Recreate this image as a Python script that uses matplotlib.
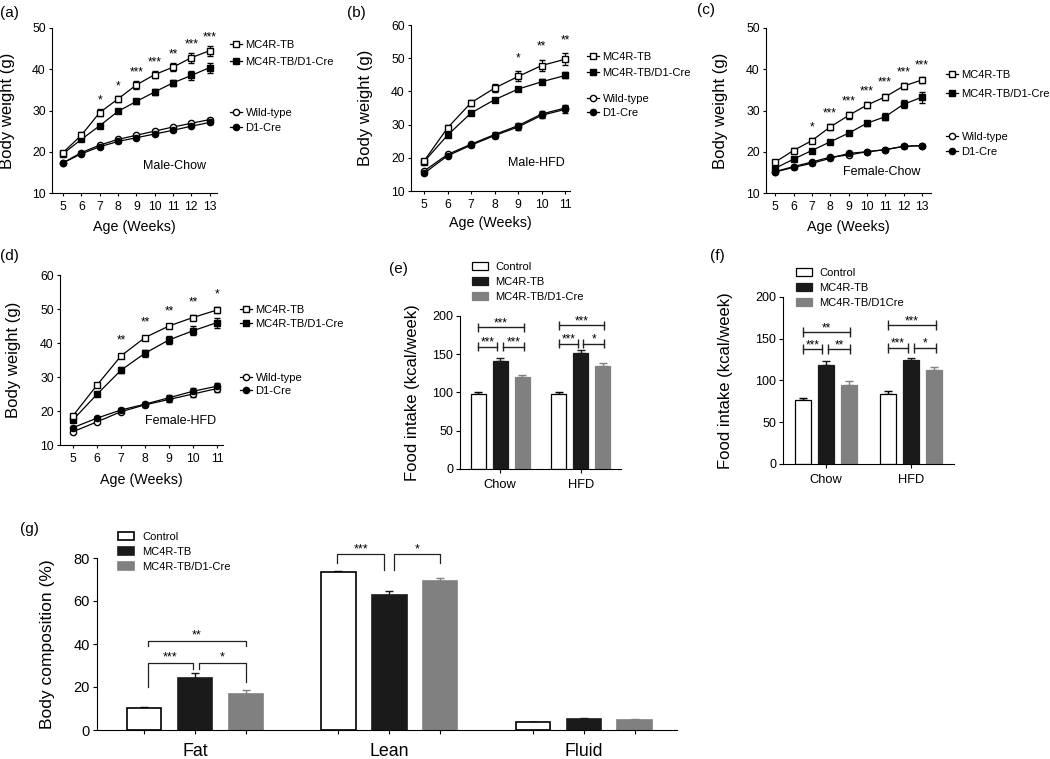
import matplotlib.pyplot as plt
import numpy as np
from matplotlib.lines import Line2D
from matplotlib.patches import Patch

plt.rcParams['font.family'] = ['Liberation Sans', 'DejaVu Sans']
plt.rcParams['axes.linewidth'] = 0.8

W, H = 1050, 759

# ---------------- data ----------------
weeks_13 = [5, 6, 7, 8, 9, 10, 11, 12, 13]
weeks_11 = [5, 6, 7, 8, 9, 10, 11]

# (a) Male-Chow
a_tb = [19.8, 24.0, 29.5, 32.8, 36.2, 38.7, 40.5, 42.8, 44.5]
a_tb_err = [0.5, 0.7, 0.8, 0.8, 1.0, 0.9, 1.0, 1.2, 1.2]
a_tbd1 = [19.5, 23.0, 26.3, 29.8, 32.2, 34.5, 36.7, 38.5, 40.4]
a_tbd1_err = [0.4, 0.5, 0.5, 0.5, 0.6, 0.7, 0.8, 1.0, 1.2]
a_wt = [17.3, 19.8, 21.6, 23.0, 24.0, 25.0, 26.0, 26.9, 27.8]
a_wt_err = [0.3, 0.3, 0.3, 0.3, 0.3, 0.3, 0.3, 0.3, 0.4]
a_d1 = [17.3, 19.5, 21.2, 22.5, 23.4, 24.3, 25.2, 26.2, 27.1]
a_d1_err = [0.3, 0.3, 0.3, 0.3, 0.3, 0.3, 0.3, 0.3, 0.4]
a_stars = ['', '', '*', '*', '***', '***', '**', '***', '***']

# (b) Male-HFD
b_tb = [19.0, 29.0, 36.6, 41.0, 44.5, 47.8, 49.7]
b_tb_err = [0.5, 0.8, 0.9, 1.2, 1.5, 1.8, 1.8]
b_tbd1 = [18.8, 26.8, 33.5, 37.5, 40.7, 42.9, 44.8]
b_tbd1_err = [0.4, 0.6, 0.6, 0.6, 0.7, 0.8, 0.9]
b_wt = [16.0, 21.0, 24.1, 27.0, 29.7, 33.2, 35.0]
b_wt_err = [0.3, 0.4, 0.5, 0.7, 0.8, 0.8, 1.0]
b_d1 = [15.3, 20.6, 23.8, 26.7, 29.3, 32.8, 34.6]
b_d1_err = [0.3, 0.4, 0.5, 0.7, 0.8, 0.8, 1.0]
b_stars = ['', '', '', '', '*', '**', '**']

# (c) Female-Chow
c_tb = [17.5, 20.3, 22.7, 26.0, 28.8, 31.3, 33.3, 35.9, 37.4]
c_tb_err = [0.4, 0.5, 0.6, 0.7, 0.8, 0.7, 0.8, 0.7, 0.8]
c_tbd1 = [16.0, 18.2, 20.3, 22.4, 24.5, 26.9, 28.5, 31.5, 33.2]
c_tbd1_err = [0.3, 0.3, 0.4, 0.4, 0.5, 0.6, 0.8, 1.0, 1.3]
c_wt = [15.2, 16.4, 17.5, 18.7, 19.2, 20.0, 20.5, 21.3, 21.5]
c_wt_err = [0.3, 0.3, 0.3, 0.3, 0.3, 0.3, 0.3, 0.3, 0.3]
c_d1 = [15.1, 16.2, 17.2, 18.4, 19.6, 20.0, 20.5, 21.3, 21.5]
c_d1_err = [0.3, 0.3, 0.3, 0.3, 0.3, 0.3, 0.3, 0.3, 0.3]
c_stars = ['', '', '*', '***', '***', '***', '***', '***', '***']

# (d) Female-HFD
d_tb = [18.6, 27.6, 36.2, 41.6, 45.0, 47.5, 49.7]
d_tb_err = [0.6, 0.6, 0.6, 0.6, 0.6, 0.6, 0.8]
d_tbd1 = [17.4, 24.9, 32.0, 37.0, 40.9, 43.6, 46.0]
d_tbd1_err = [0.5, 0.5, 0.9, 1.0, 1.3, 1.3, 1.5]
d_wt = [13.9, 16.8, 19.8, 21.8, 23.4, 25.0, 26.6]
d_wt_err = [0.4, 0.4, 0.5, 0.6, 0.7, 1.0, 1.0]
d_d1 = [15.1, 17.9, 20.3, 22.0, 23.9, 25.8, 27.3]
d_d1_err = [0.4, 0.4, 0.5, 0.6, 0.7, 1.0, 1.0]
d_stars = ['', '', '**', '**', '**', '**', '*']

# (e) / (f) food intake
diets = ['Chow', 'HFD']
e_means = [[98, 141, 120], [98, 152, 135]]
e_errs = [[3, 4, 3], [2, 3, 4]]
e_sig = [['***', '***', '***'], ['***', '***', '*']]      # top, left, right
e_sig_y = [[185, 160, 160], [188, 164, 164]]
f_means = [[77, 118, 95], [84, 124, 113]]
f_errs = [[2, 5, 4], [3, 3, 3]]
f_sig = [['**', '***', '**'], ['***', '***', '*']]
f_sig_y = [[157.5, 137.5, 137.5], [166.5, 139.3, 139.3]]

# (g) body composition
tissues = ['Fat', 'Lean', 'Fluid']
g_means = [[10.2, 24.3, 16.7], [73.6, 62.7, 69.2], [3.8, 5.3, 4.8]]
g_errs = [[0.4, 2.0, 2.0], [0.3, 1.8, 1.6], [0.1, 0.2, 0.1]]

groups = ['Control', 'MC4R-TB', 'MC4R-TB/D1-Cre']
fills = ['white', '#1a1a1a', '#808080']
edges = ['black', '#1a1a1a', '#808080']

fig = plt.figure(figsize=(W / 100, H / 100), dpi=100)


def px_axes(l, t, r, b):
    ax = fig.add_axes([l / W, 1 - b / H, (r - l) / W, (b - t) / H])
    ax.spines['top'].set_visible(False)
    ax.spines['right'].set_visible(False)
    return ax


def legend_at(handles, labels, x, yc, pitch, fs=8, hl=1.1, pad=0.3):
    fs_px = fs * 100 / 72
    fig.legend(handles, labels, loc='center left',
               bbox_to_anchor=(x / W, 1 - yc / H), frameon=False, fontsize=fs,
               borderpad=0, borderaxespad=0, labelspacing=pitch / fs_px - 0.94,
               handlelength=hl, handletextpad=pad)


def growth(box, weeks, series, stars, ylim, yticks, xlim, note, note_xy,
           ylab_x, xlab_y, star_gap, leg):
    ax = px_axes(*box)
    styles = [('o', 'white', 4.5), ('o', 'black', 4.5),
              ('s', 'black', 5), ('s', 'white', 5)]
    for (mean, err), (m, fc, ms) in zip(series, styles):
        ax.errorbar(weeks, mean, yerr=err, color='black', marker=m, mfc=fc,
                    mec='black', ms=ms, lw=0.9, elinewidth=0.8, capsize=2,
                    capthick=0.8, mew=1.0)
    tb, tb_err = series[3]
    for w, v, e, s in zip(weeks, tb, tb_err, stars):
        if s:
            ax.annotate(s, (w, v + e), xytext=(0, star_gap),
                        textcoords='offset points', ha='center', va='bottom',
                        fontsize=8.5, annotation_clip=False)
    ax.set_xlim(*xlim)
    ax.set_ylim(*ylim)
    ax.set_xticks(weeks)
    ax.set_yticks(yticks)
    ax.tick_params(labelsize=8.8, length=2.5, width=0.8, pad=2)
    ax.tick_params(axis='x', pad=3.5)
    ax.set_xlabel('Age (Weeks)', fontsize=10.3)
    ax.set_ylabel('Body weight (g)', fontsize=12)
    ax.yaxis.set_label_coords(ylab_x, 0.5)
    ax.xaxis.set_label_coords(0.5, xlab_y)
    ax.text(note_xy[0], note_xy[1], note, transform=ax.transAxes,
            ha='center', va='center', fontsize=9)

    h_tb = Line2D([], [], color='black', marker='s', mfc='white', mec='black', ms=5, lw=0.9)
    h_tbd1 = Line2D([], [], color='black', marker='s', mfc='black', ms=5, lw=0.9)
    h_wt = Line2D([], [], color='black', marker='o', mfc='white', mec='black', ms=4.5, lw=0.9)
    h_d1 = Line2D([], [], color='black', marker='o', mfc='black', ms=4.5, lw=0.9)
    x, y1, p1, y2, p2 = leg
    legend_at([h_tb, h_tbd1], ['MC4R-TB', 'MC4R-TB/D1-Cre'], x, y1, p1)
    legend_at([h_wt, h_d1], ['Wild-type', 'D1-Cre'], x, y2, p2)
    return ax


growth((52, 28, 217, 193), weeks_13,
       [(a_wt, a_wt_err), (a_d1, a_d1_err), (a_tbd1, a_tbd1_err), (a_tb, a_tb_err)],
       a_stars, (10, 50), [10, 20, 30, 40, 50], (4.4, 13.4), 'Male-Chow',
       (0.745, 0.164), -0.224, -0.164, 2.0, (230, 53.5, 17, 120.5, 15))

growth((411, 25, 570, 191), weeks_11,
       [(b_wt, b_wt_err), (b_d1, b_d1_err), (b_tbd1, b_tbd1_err), (b_tb, b_tb_err)],
       b_stars, (10, 60), [10, 20, 30, 40, 50, 60], (4.45, 11.2), 'Male-HFD',
       (0.79, 0.17), -0.239, -0.15, 5.0, (587, 65, 16, 106, 14))

growth((766, 28, 931, 193), weeks_13,
       [(c_wt, c_wt_err), (c_d1, c_d1_err), (c_tbd1, c_tbd1_err), (c_tb, c_tb_err)],
       c_stars, (10, 50), [10, 20, 30, 40, 50], (4.5, 13.5), 'Female-Chow',
       (0.70, 0.127), -0.23, -0.164, 3.5, (946, 84.5, 19, 144.5, 15))

growth((60, 275, 223, 445), weeks_11,
       [(d_wt, d_wt_err), (d_d1, d_d1_err), (d_tbd1, d_tbd1_err), (d_tb, d_tb_err)],
       d_stars, (10, 60), [10, 20, 30, 40, 50, 60], (4.46, 11.25), 'Female-HFD',
       (0.74, 0.14), -0.241, -0.165, 5.0, (240, 317, 14, 384.5, 14))


def bars(ax, x0, means, errs, offs, width, lw):
    for k in range(3):
        ax.bar(x0 + offs[k], means[k], width, color=fills[k], edgecolor=edges[k],
               lw=lw, zorder=2)
        ax.errorbar(x0 + offs[k], means[k], yerr=[[0], [errs[k]]], color=edges[k],
                    lw=0, elinewidth=1.0, capsize=3, capthick=1.0, zorder=1)


def hbracket(ax, x0, x1, y, cap, label):
    ax.plot([x0, x1], [y, y], color='#222222', lw=1.0, clip_on=False)
    ax.vlines([x0, x1], y - cap, y + cap, color='#222222', lw=1.0, clip_on=False)
    ax.annotate(label, ((x0 + x1) / 2, y), xytext=(0, -1.5), textcoords='offset points',
                ha='center', va='bottom', fontsize=8.5, annotation_clip=False)


def intake(box, means, errs, sig, sig_y, spacing, width, ylab_x, leg_x, leg_y, labels):
    ax = px_axes(*box)
    offs = [-spacing, 0, spacing]
    for g in range(2):
        bars(ax, g, means[g], errs[g], offs, width, 0.9)
        c = [g + o for o in offs]
        hbracket(ax, c[0], c[2] + 0.02, sig_y[g][0], 6, sig[g][0])
        hbracket(ax, c[0], c[1] - 0.04, sig_y[g][1], 6, sig[g][1])
        hbracket(ax, c[1] + 0.03, c[2] + 0.02, sig_y[g][2], 6, sig[g][2])
    ax.set_xlim(-0.5, 1.5)
    ax.set_ylim(0, 200)
    ax.set_yticks([0, 50, 100, 150, 200])
    ax.set_xticks([0, 1])
    ax.set_xticklabels(diets)
    ax.tick_params(axis='y', labelsize=9, length=3, width=0.8, pad=2)
    ax.tick_params(axis='x', labelsize=9.3, length=3, width=0.8, pad=4)
    ax.set_ylabel('Food intake (kcal/week)', fontsize=12)
    ax.yaxis.set_label_coords(ylab_x, 0.5)
    handles = [Patch(facecolor=fills[k], edgecolor=edges[k], lw=0.9) for k in range(3)]
    legend_at(handles, labels, leg_x, leg_y, 15.5, hl=1.45, pad=0.65)
    return ax


intake((460, 316, 621, 469), e_means, e_errs, e_sig, e_sig_y, 0.272, 0.185,
       -0.248, 472, 282, groups)
intake((783, 297, 954, 464), f_means, f_errs, f_sig, f_sig_y, 0.267, 0.186,
       -0.29, 796, 288, ['Control', 'MC4R-TB', 'MC4R-TB/D1Cre'])

# (g)
axg = px_axes(97, 558, 677, 730)
g_offs = [-0.262, 0, 0.262]
centers = []
for g in range(3):
    bars(axg, g, g_means[g], g_errs[g], g_offs, 0.177, 1.2)
    centers += [g + o for o in g_offs]


def leg_bracket(ax, x0, x1, y, y0, y1, label):
    ax.plot([x0, x0, x1, x1], [y0, y, y, y1], color='#222222', lw=0.9, clip_on=False)
    ax.annotate(label, ((x0 + x1) / 2, y), xytext=(0, -0.5), textcoords='offset points',
                ha='center', va='bottom', fontsize=9, annotation_clip=False)


c = centers
leg_bracket(axg, c[0] + 0.02, c[2], 41.3, 39.0, 39.0, '**')
leg_bracket(axg, c[0] + 0.02, c[1] - 0.01, 31.3, 20.0, 28.6, '***')
leg_bracket(axg, c[1] + 0.02, c[2], 31.3, 28.6, 22.4, '*')
leg_bracket(axg, c[3] - 0.005, c[4] - 0.025, 81.7, 77.7, 74.6, '***')
leg_bracket(axg, c[4] + 0.025, c[5], 81.7, 74.6, 77.7, '*')

axg.set_xlim(-0.504, 2.48)
axg.set_ylim(0, 80)
axg.set_yticks([0, 20, 40, 60, 80])
axg.xaxis.remove_overlapping_locs = False
axg.set_xticks([0, 1, 2])
axg.set_xticklabels(tissues)
axg.set_xticks(centers, minor=True)
axg.tick_params(axis='x', which='major', length=0, labelsize=12.8, pad=9)
axg.tick_params(axis='x', which='minor', length=3, width=0.8)
axg.tick_params(axis='y', labelsize=10.5, length=3, width=0.8, pad=2)
axg.set_ylabel('Body composition (%)', fontsize=12.5)
axg.yaxis.set_label_coords(-0.072, 0.5)
legend_at([Patch(facecolor=fills[k], edgecolor=edges[k], lw=1.2) for k in range(3)],
          groups, 118, 552, 15.5, hl=1.45, pad=0.72)

# panel letters
for lab, x, y in [('(a)', 0, 13), ('(b)', 347, 13), ('(c)', 697, 10), ('(d)', 0, 256),
                  ('(e)', 389, 269), ('(f)', 710, 256), ('(g)', 20, 529)]:
    fig.text(x / W, 1 - y / H, lab, ha='left', va='center', fontsize=11)

fig.savefig('out.png', dpi=100)
